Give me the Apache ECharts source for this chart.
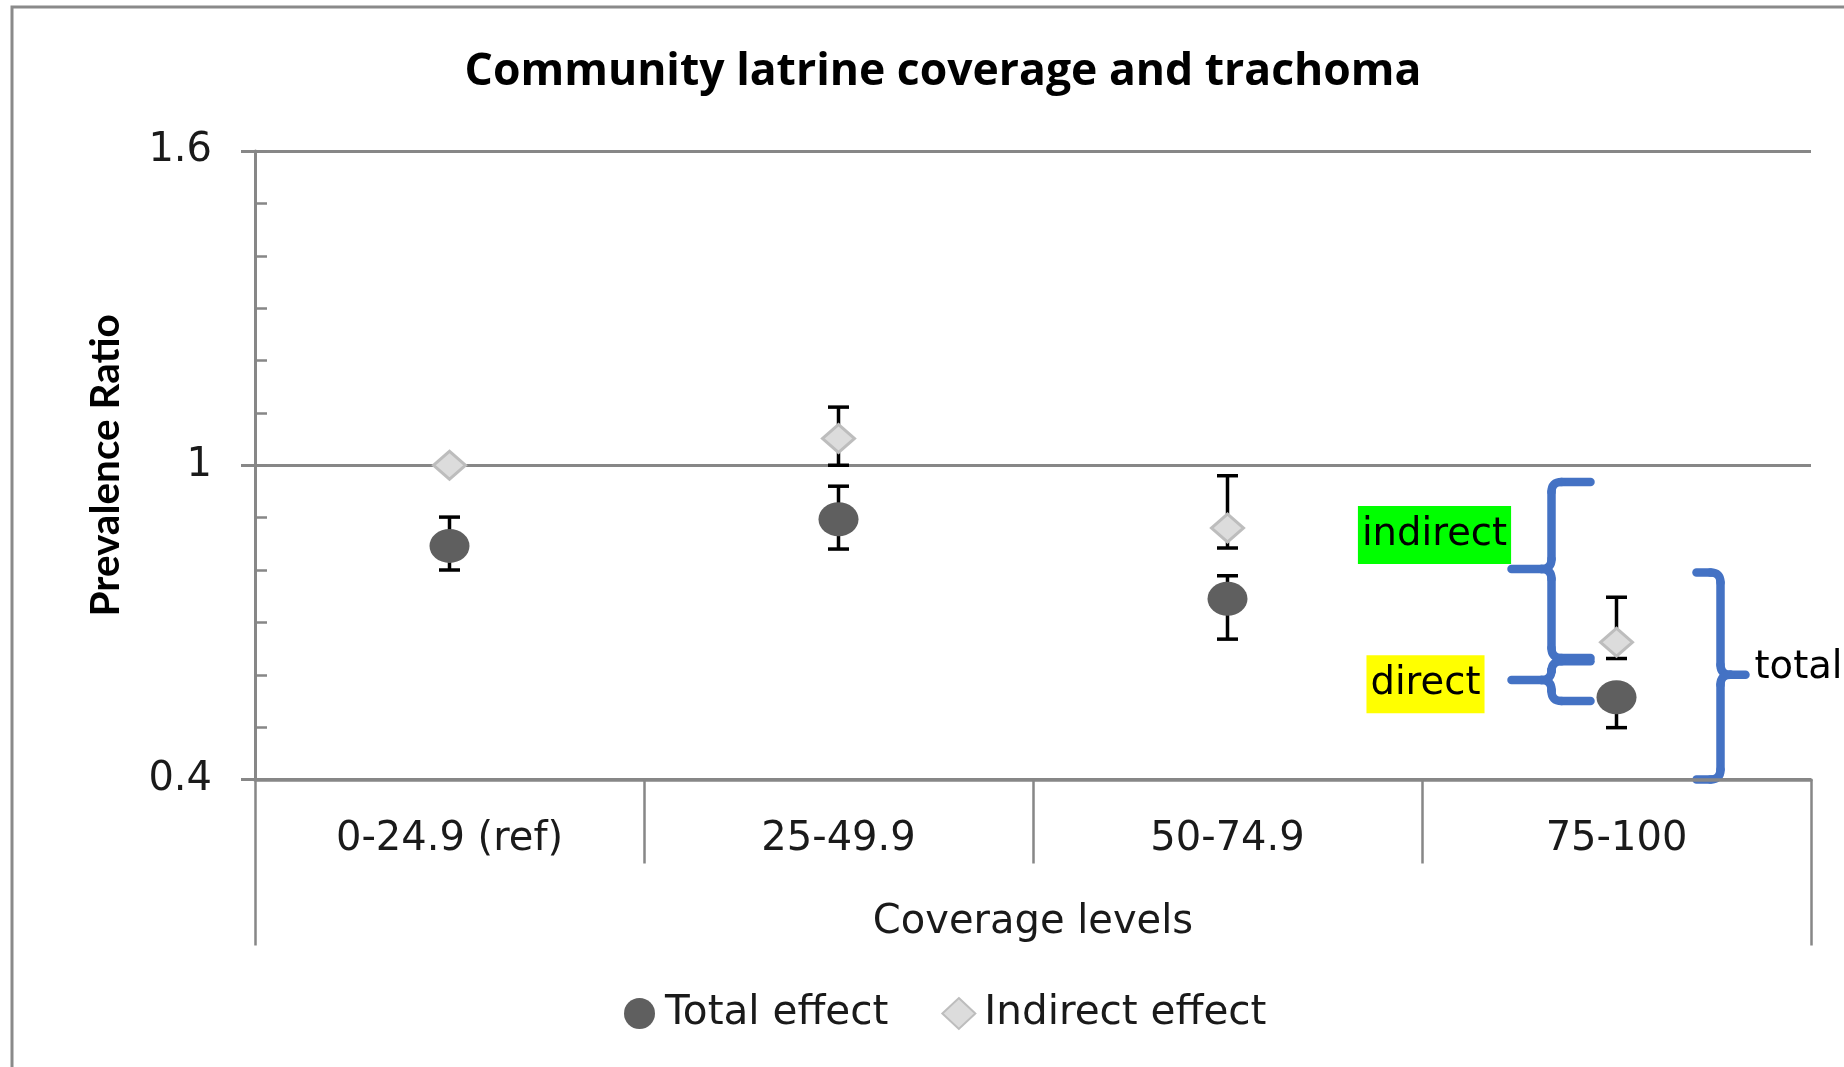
<!DOCTYPE html>
<html><head><meta charset="utf-8">
<script src="https://cdn.jsdelivr.net/npm/echarts@6/dist/echarts.min.js"></script>
<style>html,body{margin:0;padding:0;background:#fff}#c{width:1844px;height:1067px}</style>
</head><body><div id="c"></div>
<script>
// ---------- data ----------
const categories = ['0-24.9 (ref)', '25-49.9', '50-74.9', '75-100'];
const totalEffect = [0.846, 0.897, 0.745, 0.557];
const totalLow = [0.800, 0.840, 0.668, 0.499];
const totalHigh = [0.901, 0.960, 0.789, 0.581];
const indirectEffect = [1.000, 1.051, 0.880, 0.662];
const indirectLow = [null, 1.000, 0.842, 0.631];
const indirectHigh = [null, 1.111, 0.980, 0.748];
const yMin = 0.4, yMax = 1.6, yStep = 0.6;
// annotation braces: [top, middle, bottom] in prevalence-ratio units
const indirectBrace = [0.968, 0.802, 0.632];
const directBrace = [0.626, 0.590, 0.550];
const totalBrace = [0.795, 0.600, 0.400];
const annotLabels = ['indirect', 'direct', 'total'];
const annotLabelValues = [0.867, 0.576, 0.612];

const FONT = 'DejaVu Sans';
const TXT = '#1a1a1a';
const GRAY = '#878787';

function errData(low, high) {
  const out = [];
  for (let i = 0; i < low.length; i++) {
    if (low[i] != null && high[i] != null) out.push([i, low[i], high[i]]);
  }
  return out;
}
function errRender(params, api) {
  const x = api.value(0), lo = api.value(1), hi = api.value(2);
  const pLo = api.coord([x, lo]), pHi = api.coord([x, hi]);
  const hw = 10.5;
  const st = { stroke: '#000', lineWidth: 3.5 };
  return { type: 'group', children: [
    { type: 'line', shape: { x1: pLo[0], y1: pLo[1], x2: pHi[0], y2: pHi[1] }, style: st },
    { type: 'line', shape: { x1: pLo[0] - hw, y1: pLo[1], x2: pLo[0] + hw, y2: pLo[1] }, style: st },
    { type: 'line', shape: { x1: pHi[0] - hw, y1: pHi[1], x2: pHi[0] + hw, y2: pHi[1] }, style: st }
  ]};
}

const chart = echarts.init(document.getElementById('c'), null, { renderer: 'canvas' });
chart.setOption({
  backgroundColor: '#fff',
  animation: false,
  title: {
    text: 'Community latrine coverage and trachoma',
    left: 938, textAlign: 'center', top: 40,
    textStyle: { fontFamily: 'Open Sans', fontWeight: 'bold', fontSize: 44.5, color: '#000', lineHeight: 54 }
  },
  legend: {
    data: ['Total effect', 'Indirect effect'],
    left: 619, top: 988,
    itemWidth: 33, itemHeight: 31, itemGap: 53,
    textStyle: { fontFamily: FONT, fontSize: 40.5, color: TXT, padding: [0, 0, 0, 4] }
  },
  grid: { left: 255, right: 33, top: 151, bottom: 287.5, containLabel: false },
  xAxis: [{
    type: 'category', data: categories, position: 'bottom',
    boundaryGap: true,
    axisLine: { show: true, lineStyle: { color: GRAY, width: 3.5 } },
    axisTick: { show: true, length: 84, lineStyle: { color: GRAY, width: 2.5 } },
    axisLabel: { margin: 37, fontFamily: FONT, fontSize: 40, color: TXT, lineHeight: 46 },
    splitLine: { show: false }
  }, {
    type: 'category', data: ['Coverage levels'], position: 'bottom',
    boundaryGap: true,
    axisLine: { show: false },
    axisTick: { show: true, length: 166, lineStyle: { color: GRAY, width: 2.5 } },
    axisLabel: { margin: 120, fontFamily: FONT, fontSize: 40, color: TXT, lineHeight: 46 },
    splitLine: { show: false }
  }],
  yAxis: [{
    type: 'value', min: yMin, max: yMax, interval: yStep, position: 'left',
    name: 'Prevalence Ratio', nameLocation: 'middle', nameGap: 129, nameRotate: 90,
    nameTextStyle: { fontFamily: 'Lato', fontWeight: 'bold', fontSize: 40.5, color: '#000' },
    axisLine: { show: true, lineStyle: { color: GRAY, width: 3 } },
    axisTick: { show: true, inside: false, length: 14, lineStyle: { color: GRAY, width: 3 } },
    axisLabel: { margin: 43, fontFamily: FONT, fontSize: 40, color: TXT,
      formatter: v => String(Math.round(v * 10) / 10) },
    splitLine: { show: true, lineStyle: { color: GRAY, width: 3 } }
  }, {
    type: 'value', min: yMin, max: yMax, interval: 0.1, position: 'left', offset: 0,
    axisLine: { show: false },
    axisTick: { show: true, inside: true, length: 12, lineStyle: { color: GRAY, width: 2.5 } },
    axisLabel: { show: false },
    splitLine: { show: false }
  }],
  series: [
    { name: 'Total CI', type: 'custom', xAxisIndex: 0, yAxisIndex: 0, z: 1,
      data: errData(totalLow, totalHigh), renderItem: errRender, encode: { x: 0, y: [1, 2] } },
    { name: 'Indirect CI', type: 'custom', xAxisIndex: 0, yAxisIndex: 0, z: 1,
      data: errData(indirectLow, indirectHigh), renderItem: errRender, encode: { x: 0, y: [1, 2] } },
    { name: 'Total effect', type: 'scatter', xAxisIndex: 0, yAxisIndex: 0, z: 3,
      symbol: 'circle', symbolSize: [40, 34],
      itemStyle: { color: '#5f5f5f', opacity: 1 },
      data: totalEffect },
    { name: 'Indirect effect', type: 'scatter', xAxisIndex: 0, yAxisIndex: 0, z: 3,
      symbol: 'diamond', symbolSize: [32, 28],
      itemStyle: { color: '#dcdcdc', borderColor: '#bdbdbd', borderWidth: 3, opacity: 1 },
      data: indirectEffect }
  ]
});

// ---------- annotations (braces and labels) positioned through the axes ----------
function brace(ex, sx, tx, y0, ym, y1, r) {
  const e = ex > sx ? 1 : -1;
  const d = tx > sx ? 1 : -1;
  const st = { stroke: '#4472C4', lineWidth: 8.5, fill: null, lineCap: 'round' };
  const L = (x1, y1, x2, y2) => ({ type: 'line', shape: { x1, y1, x2, y2 }, style: st });
  const B = (x1, y1, cpx1, cpy1, x2, y2) => ({ type: 'bezierCurve', shape: { x1, y1, cpx1, cpy1, x2, y2 }, style: st });
  return { type: 'group', z: 10, children: [
    L(ex, y0, sx + e * r, y0),
    B(sx + e * r, y0, sx, y0, sx, y0 + r),
    L(sx, y0 + r, sx, ym - r),
    B(sx, ym - r, sx, ym, sx + d * r, ym),
    L(sx + d * r, ym, tx, ym),
    B(sx + d * r, ym, sx, ym, sx, ym + r),
    L(sx, ym + r, sx, y1 - r),
    B(sx, y1 - r, sx, y1, sx + e * r, y1),
    L(sx + e * r, y1, ex, y1)
  ]};
}
function drawAnnotations() {
  const yp = v => chart.convertToPixel({ yAxisIndex: 0 }, v);
  const cx = chart.convertToPixel({ xAxisIndex: 0 }, categories.length - 1);
  const mk = (b, ex, sx, tx) => brace(ex, sx, tx, yp(b[0]), yp(b[1]), yp(b[2]), 10);
  const lblFont = { fontFamily: FONT, fontSize: 38.5, fill: '#000' };
  chart.setOption({
    graphic: [
      { type: 'rect', z: 0, silent: true,
        shape: { x: 12, y: 7, width: 1900, height: 1100 },
        style: { fill: null, stroke: '#8a8a8a', lineWidth: 3 } },
      mk(indirectBrace, cx - 26, cx - 65, cx - 105),
      mk(directBrace, cx - 26, cx - 65, cx - 105),
      mk(totalBrace, cx + 80, cx + 104, cx + 129),
      { type: 'text', z: 11, x: cx - 182, y: yp(0.867),
        style: Object.assign({ text: annotLabels[0], align: 'center', verticalAlign: 'middle',
          backgroundColor: '#00FF00', padding: [8, 4, 4, 4], lineHeight: 46 }, lblFont) },
      { type: 'text', z: 11, x: cx - 191, y: yp(0.582),
        style: Object.assign({ text: annotLabels[1], align: 'center', verticalAlign: 'middle',
          backgroundColor: '#FFFF00', padding: [8, 4, 4, 4], lineHeight: 46 }, lblFont) },
      { type: 'text', z: 11, x: cx + 138, y: yp(annotLabelValues[2]),
        style: Object.assign({ text: annotLabels[2], align: 'left', verticalAlign: 'middle' }, lblFont) }
    ]
  });
}
drawAnnotations();
</script>
</body></html>
